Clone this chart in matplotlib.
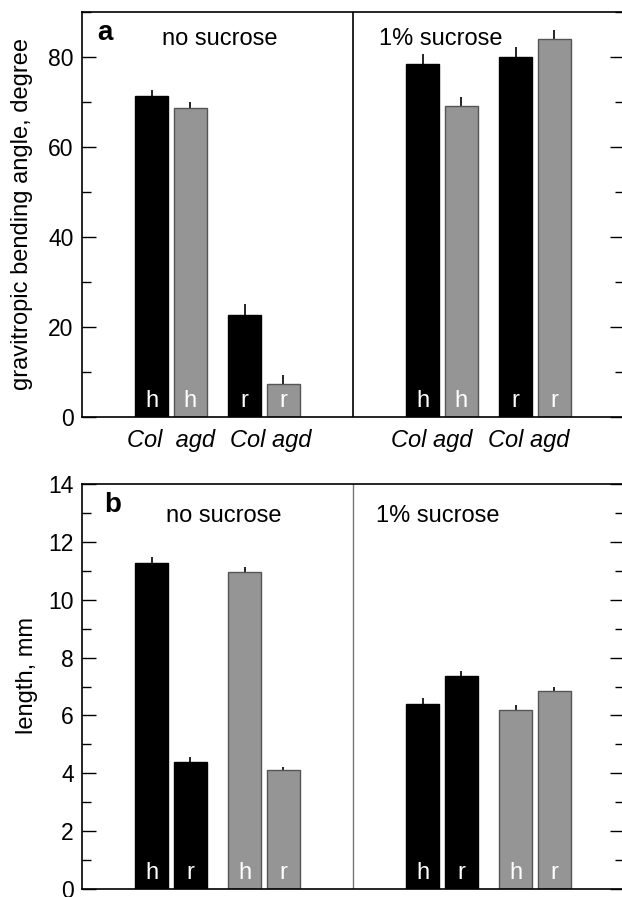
import matplotlib
matplotlib.use("Agg")
import matplotlib.pyplot as plt
import numpy as np
from matplotlib.ticker import MultipleLocator

plt.rcParams['font.family'] = ['Liberation Sans', 'DejaVu Sans']

# ---------------- data ----------------
# Panel a: gravitropic bending angle (degree)
a_conditions = ["no sucrose", "1% sucrose"]
a_genotypes = ["Col", "agd", "Col", "agd"]
a_organs = ["h", "h", "r", "r"]
a_nosuc = [71.3, 68.7, 22.6, 7.3]
a_nosuc_err = [1.4, 1.2, 2.4, 2.1]
a_suc = [78.5, 69.1, 80.1, 83.9]
a_suc_err = [2.1, 2.1, 2.1, 2.1]
a_xlabels = ["Col  agd", "Col agd", "Col agd", "Col agd"]

# Panel b: length (mm)
b_genotypes = ["Col", "Col", "agd", "agd"]
b_organs = ["h", "r", "h", "r"]
b_nosuc = [11.26, 4.40, 10.96, 4.10]
b_nosuc_err = [0.22, 0.17, 0.16, 0.12]
b_suc = [6.39, 7.37, 6.20, 6.84]
b_suc_err = [0.20, 0.17, 0.16, 0.15]

# ---------------- layout ----------------
BLACK = "#000000"
GREY = "#959595"
GREY_EDGE = "#555555"
FS = 17
pos_left = np.array([1.8, 2.8, 4.2, 5.2])
pos_right = pos_left + 7.0
width = 0.85
xlabel_pos = [2.30, 4.88, 9.04, 11.55]

fig = plt.figure(figsize=(6.22, 8.97), dpi=100)
axa = fig.add_axes([82/622, 1-417/897, 542/622, 405/897])
axb = fig.add_axes([82/622, 1-889/897, 542/622, 405/897])


def style(ax, ymax, major, minor):
    ax.set_xlim(0, 14)
    ax.set_ylim(0, ymax)
    ax.yaxis.set_major_locator(MultipleLocator(major))
    ax.yaxis.set_minor_locator(MultipleLocator(minor))
    ax.tick_params(axis='y', which='both', direction='in', left=True, right=True,
                   labelleft=True, labelright=False, labelsize=FS - 0.5, pad=6,
                   width=1.0)
    ax.tick_params(axis='y', which='major', length=10)
    ax.tick_params(axis='y', which='minor', length=6.5)
    ax.set_xticks([])
    for s in ax.spines.values():
        s.set_linewidth(1.2)
    ax.spines['right'].set_visible(False)


def draw_bars(ax, pos, vals, errs, colors, organs):
    edges = [BLACK if c == BLACK else GREY_EDGE for c in colors]
    ax.bar(pos, vals, width=width, color=colors, edgecolor=edges, linewidth=1.0, zorder=2)
    ax.errorbar(pos, vals, yerr=[np.zeros(len(errs)), errs], fmt='none',
                ecolor='black', elinewidth=1.2, capsize=0, zorder=1)
    for x, o in zip(pos, organs):
        ax.annotate(o, xy=(x, 0), xytext=(0, 7.5), textcoords='offset points',
                    ha='center', va='baseline', color='white', fontsize=FS, zorder=3)


# Panel a
style(axa, 90, 20, 10)
cols_a = [BLACK if g == "Col" else GREY for g in a_genotypes]
draw_bars(axa, pos_left, a_nosuc, a_nosuc_err, cols_a, a_organs)
draw_bars(axa, pos_right, a_suc, a_suc_err, cols_a, a_organs)
axa.axvline(7, color='black', lw=1.2)
axa.set_ylabel("gravitropic bending angle, degree", fontsize=FS)
axa.yaxis.set_label_coords(-0.0904, 0.5)
axa.text(0.0277, 0.931, "a", transform=axa.transAxes, fontsize=20,
         fontweight='bold', va='baseline', ha='left')
axa.text(0.1476, 0.9185, a_conditions[0], transform=axa.transAxes, fontsize=FS,
         va='baseline', ha='left')
axa.text(0.548, 0.9185, a_conditions[1], transform=axa.transAxes, fontsize=FS,
         va='baseline', ha='left')
for x, lab in zip(xlabel_pos, a_xlabels):
    axa.text(x, -0.057, lab, transform=axa.get_xaxis_transform(), fontsize=FS,
             style='italic', ha='center', va='center')

# Panel b
style(axb, 14, 2, 1)
cols_b = [BLACK if g == "Col" else GREY for g in b_genotypes]
draw_bars(axb, pos_left, b_nosuc, b_nosuc_err, cols_b, b_organs)
draw_bars(axb, pos_right, b_suc, b_suc_err, cols_b, b_organs)
axb.axvline(7, color='#777777', lw=1.0)
axb.set_ylabel("length, mm", fontsize=FS)
axb.yaxis.set_label_coords(-0.081, 0.526)
axb.text(0.0406, 0.931, "b", transform=axb.transAxes, fontsize=20,
         fontweight='bold', va='baseline', ha='left')
axb.text(0.155, 0.906, "no sucrose", transform=axb.transAxes, fontsize=FS,
         va='baseline', ha='left')
axb.text(0.542, 0.906, "1% sucrose", transform=axb.transAxes, fontsize=FS,
         va='baseline', ha='left')

fig.savefig("out.png", dpi=100)
